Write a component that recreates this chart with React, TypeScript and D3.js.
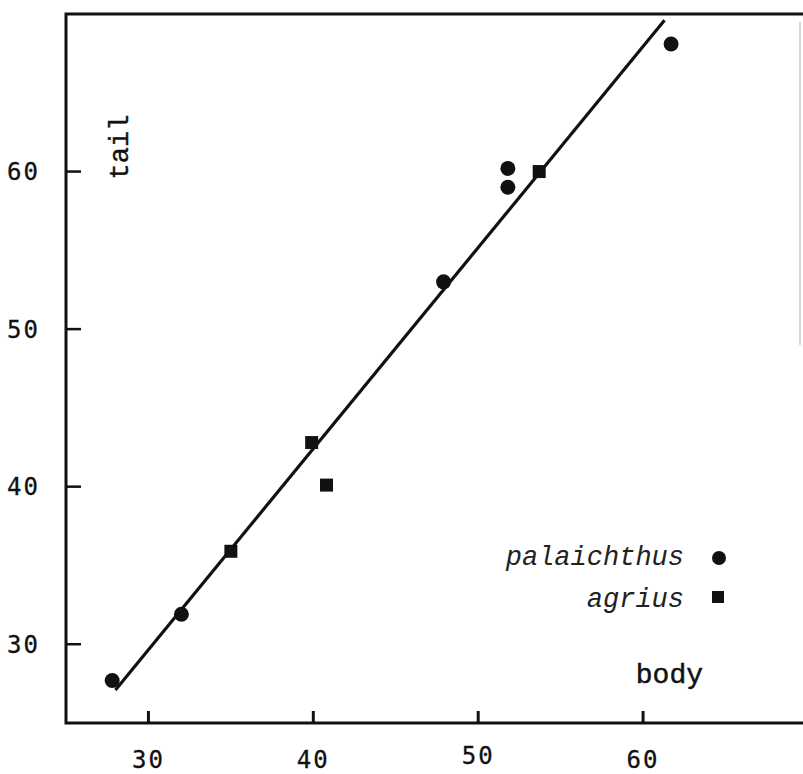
import { useEffect } from "react";
import * as d3 from "d3";

// palaichthus (circles)
const palBody = [27.8, 32.0, 47.9, 51.8, 51.8, 61.7];
const palTail = [27.7, 31.9, 53.0, 60.2, 59.0, 68.1];

// agrius (squares)
const agrBody = [35.0, 39.9, 40.8, 53.7];
const agrTail = [35.9, 42.8, 40.1, 60.0];

// fitted line end points
const lineBody = [28.0, 61.3];
const lineTail = [27.1, 69.6];

const xTicks = [30, 40, 50, 60];
const yTicks = [30, 40, 50, 60];

const W = 803;
const H = 774;
const left = 66;
const top = 14;
const bottom = 723;

const mono = "'Liberation Mono', 'DejaVu Sans Mono', monospace";
const digits = "'DejaVu Sans Mono', 'Liberation Mono', monospace";

export default function App() {
  useEffect(() => {
    document.body.style.margin = "0";
  }, []);

  const x = d3.scaleLinear().domain([25, 69.7]).range([left, W]);
  const y = d3.scaleLinear().domain([25, 70]).range([bottom, top]);

  const line = d3
    .line<number>()
    .x((d) => x(d))
    .y((_, i) => y(lineTail[i]));

  return (
    <svg width={W} height={H} style={{ display: "block", background: "#fff" }}>
      {/* frame */}
      <path
        d={`M${W},${top}H${left}V${bottom}H${W}`}
        fill="none"
        stroke="#111"
        strokeWidth={3}
      />
      <line x1={800} x2={800} y1={22} y2={345} stroke="#c8c8c8" strokeWidth={1.5} />

      {/* x ticks */}
      {xTicks.map((t, i) => (
        <g key={"x" + t}>
          <line x1={x(t)} x2={x(t)} y1={bottom} y2={bottom - 12} stroke="#111" strokeWidth={3} />
          <text
            x={x(t)}
            y={bottom + 45 - (i === 2 ? 4 : 0)}
            textAnchor="middle"
            fontFamily={digits}
            fontSize={24}
            letterSpacing={2}
            fill="#111"
            stroke="#111"
            strokeWidth={0.3}
          >
            {t}
          </text>
        </g>
      ))}

      {/* y ticks */}
      {yTicks.map((t) => (
        <g key={"y" + t}>
          <line x1={left} x2={left + 15} y1={y(t)} y2={y(t)} stroke="#111" strokeWidth={2.5} />
          <text
            x={40}
            y={y(t)}
            dy="0.35em"
            textAnchor="end"
            fontFamily={digits}
            fontSize={24}
            letterSpacing={2}
            fill="#111"
            stroke="#111"
            strokeWidth={0.3}
          >
            {t}
          </text>
        </g>
      ))}

      {/* axis titles */}
      <text
        transform="translate(128,147) rotate(-90)"
        textAnchor="middle"
        fontFamily={mono}
        fontSize={27}
        fill="#111"
        stroke="#111"
        strokeWidth={0.4}
      >
        tail
      </text>
      <text
        x={703}
        y={683}
        textAnchor="end"
        fontFamily={mono}
        fontSize={28}
        fill="#111"
        stroke="#111"
        strokeWidth={0.5}
      >
        body
      </text>

      {/* regression line */}
      <path d={line(lineBody) ?? ""} fill="none" stroke="#111" strokeWidth={3.2} />

      {/* points */}
      {palBody.map((b, i) => (
        <circle key={"p" + i} cx={x(b)} cy={y(palTail[i])} r={7.5} fill="#111" />
      ))}
      {agrBody.map((b, i) => (
        <rect
          key={"a" + i}
          x={x(b) - 6.5}
          y={y(agrTail[i]) - 6.5}
          width={13}
          height={13}
          fill="#111"
        />
      ))}

      {/* legend */}
      <text
        x={684}
        y={565}
        textAnchor="end"
        fontFamily={mono}
        fontStyle="italic"
        fontSize={27}
        fill="#222"
      >
        palaichthus
      </text>
      <circle cx={719} cy={558} r={7} fill="#111" />
      <text
        x={684}
        y={607}
        textAnchor="end"
        fontFamily={mono}
        fontStyle="italic"
        fontSize={27}
        fill="#222"
      >
        agrius
      </text>
      <rect x={712} y={591} width={12} height={12} fill="#111" />
    </svg>
  );
}
